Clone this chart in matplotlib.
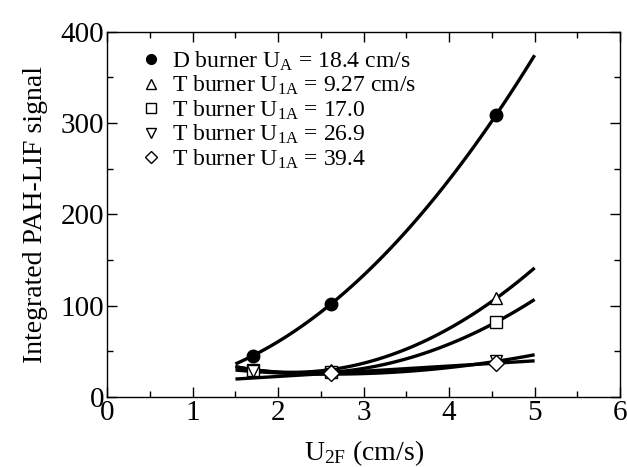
import numpy as np
import matplotlib
matplotlib.use("Agg")
import matplotlib.pyplot as plt
from matplotlib.ticker import MultipleLocator

plt.rcParams['font.family'] = ['Liberation Serif', 'DejaVu Serif']
plt.rcParams['mathtext.fontset'] = 'custom'
plt.rcParams['mathtext.rm'] = 'Liberation Serif'
plt.rcParams['mathtext.it'] = 'Liberation Serif:italic'

# measured points (U2F in cm/s)
u2f = [1.7, 2.62, 4.55]
d_burner = [45, 102, 309]
t_927 = [30, 30, 108]
t_170 = [30, 27, 82]
t_269 = [28, 25, 39]
u2f_diamond = [2.62, 4.55]
t_394 = [26, 37]

labels = [
    r'D burner U$_\mathrm{A}$ = 18.4 cm/s',
    r'T burner U$_\mathrm{1A}$ = 9.27 cm/s',
    r'T burner U$_\mathrm{1A}$ = 17.0',
    r'T burner U$_\mathrm{1A}$ = 26.9',
    r'T burner U$_\mathrm{1A}$ = 39.4',
]

fig = plt.figure(figsize=(6.27, 4.67), dpi=100)
ax = fig.add_axes([0.171, 0.15, 0.818, 0.782])

xfit = np.linspace(1.5, 5.0, 100)
series = [
    (u2f, d_burner, 'o', 'black', 2),
    (u2f, t_927, '^', 'white', 2),
    (u2f, t_170, 's', 'white', 2),
    (u2f, t_269, 'v', 'white', 2),
    (u2f_diamond, t_394, 'D', 'white', 1),
]

handles = []
for (xs, ys, m, fc, deg), lab in zip(series, labels):
    coef = np.polyfit(xs, ys, deg)
    ax.plot(xfit, np.polyval(coef, xfit), color='black', lw=2.4, zorder=2,
            solid_capstyle='butt')
    ms = 9 if m != 'D' else 8
    ax.plot(xs, ys, linestyle='none', marker=m, ms=ms, mfc=fc, mec='black',
            mew=1.0, zorder=3)
    h, = ax.plot([], [], linestyle='none', marker=m, ms=7 if m != 'D' else 6.5,
                 mfc=fc, mec='black', mew=1.0)
    handles.append(h)

ax.set_xlim(0, 6)
ax.set_ylim(0, 400)
ax.xaxis.set_major_locator(MultipleLocator(1))
ax.xaxis.set_minor_locator(MultipleLocator(0.5))
ax.yaxis.set_major_locator(MultipleLocator(100))
ax.yaxis.set_minor_locator(MultipleLocator(50))
ax.tick_params(which='both', direction='in', top=True, right=True,
               labelsize=21, width=1.0, pad=2)
ax.tick_params(which='major', length=7)
ax.tick_params(which='minor', length=4)
for s in ax.spines.values():
    s.set_linewidth(1.0)

ax.set_xlabel(r'U$_\mathrm{2F}$ (cm/s)', fontsize=20, labelpad=9)
ax.set_ylabel('Integrated PAH-LIF signal', fontsize=20, labelpad=9)

ax.legend(handles, labels, loc='upper left', bbox_to_anchor=(0.03, 0.99),
          frameon=False, fontsize=17, handletextpad=0.3, labelspacing=0.05,
          borderaxespad=0.2, handlelength=1.2)

fig.savefig('out.png', dpi=100)
